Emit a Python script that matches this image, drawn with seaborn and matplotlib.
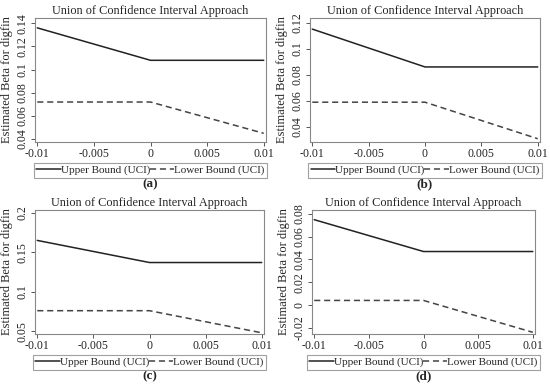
import matplotlib
matplotlib.use("Agg")
import matplotlib.pyplot as plt
import pandas as pd
import seaborn as sns

# ------------------------------------------------------
# Datos
# ------------------------------------------------------
x_vals = [-0.01, 0.0, 0.01]

upper_a = [0.136, 0.108, 0.108]
lower_a = [0.072, 0.072, 0.045]
upper_b = [0.115, 0.086, 0.086]
lower_b = [0.059, 0.059, 0.031]
upper_c = [0.165, 0.137, 0.137]
lower_c = [0.076, 0.076, 0.048]
upper_d = [0.075, 0.047, 0.047]
lower_d = [0.004, 0.004, -0.024]

x_ticks = [-0.01, -0.005, 0, 0.005, 0.01]
x_labels = ["-0.01", "-0.005", "0", "0.005", "0.01"]

yticks_a = [0.04, 0.06, 0.08, 0.1, 0.12, 0.14]
ylabels_a = ["0.04", "0.06", "0.08", "0.1", "0.12", "0.14"]
yticks_b = [0.04, 0.06, 0.08, 0.1, 0.12]
ylabels_b = ["0.04", "0.06", "0.08", "0.1", "0.12"]
yticks_c = [0.05, 0.1, 0.15, 0.2]
ylabels_c = ["0.05", "0.1", "0.15", "0.2"]
yticks_d = [-0.02, 0, 0.02, 0.04, 0.06, 0.08]
ylabels_d = ["-0.02", "0", "0.02", "0.04", "0.06", "0.08"]

series_names = ["Upper Bound (UCI)", "Lower Bound (UCI)"]
captions = ["a", "b", "c", "d"]


def make_df(upper, lower):
    return pd.DataFrame(
        {
            "x": x_vals * 2,
            "beta": upper + lower,
            "serie": [series_names[0]] * 3 + [series_names[1]] * 3,
        }
    )


# ------------------------------------------------------
# Un panel
# ------------------------------------------------------
def draw_panel(fig, rect, upper, lower, yticks, ylabels, ylim, caption):
    ax = fig.add_axes(rect)
    df = make_df(upper, lower)
    sns.lineplot(
        data=df,
        x="x",
        y="beta",
        hue="serie",
        style="serie",
        palette=["#222222", "#444444"],
        dashes=[(None, None), (4, 2.5)],
        linewidth=1.1,
        ax=ax,
    )
    ax.set_xlim(-0.0102, 0.0102)
    ax.set_ylim(*ylim)
    ax.set_xticks(x_ticks)
    ax.set_xticklabels(x_labels)
    ax.set_yticks(yticks)
    ax.set_yticklabels(ylabels, rotation=90, va="center")
    ax.set_xlabel("")
    ax.set_ylabel("Estimated Beta for digfin", labelpad=3)
    ax.set_title("Union of Confidence Interval Approach", pad=3)
    ax.tick_params(length=3, width=0.7, color="#555555", pad=1.5)
    for sp in ax.spines.values():
        sp.set_color("#888888")
        sp.set_linewidth(0.8)

    ax.legend(
        loc="upper center",
        bbox_to_anchor=(0.5, -0.17),
        ncol=2,
        frameon=True,
        fancybox=False,
        edgecolor="#888888",
        handlelength=2.2,
        handletextpad=0.0,
        columnspacing=0.0,
        borderpad=0.2,
        borderaxespad=0,
        fontsize=8,
    )
    ax.legend_.get_frame().set_linewidth(0.8)

    ax.text(
        0.5,
        -0.34,
        f"({caption})",
        transform=ax.transAxes,
        ha="center",
        va="center",
        fontsize=9.5,
        fontweight="bold",
    )
    return ax


def main():
    sns.set_theme(style="ticks")
    plt.rcParams.update(
        {
            "font.family": ["Liberation Serif", "DejaVu Serif"],
            "font.size": 8.5,
            "axes.titlesize": 8.8,
            "axes.labelsize": 9,
            "xtick.labelsize": 8.6,
            "ytick.labelsize": 8.6,
            "axes.unicode_minus": False,
        }
    )

    fig = plt.figure(figsize=(5.5, 3.9), dpi=100)

    W, H = 550.0, 390.0

    def rect(left, top, right, bottom):
        return [left / W, 1 - bottom / H, (right - left) / W, (bottom - top) / H]

    draw_panel(fig, rect(35, 18, 266, 142), upper_a, lower_a,
               yticks_a, ylabels_a, (0.0375, 0.1445), captions[0])
    draw_panel(fig, rect(310, 18, 540, 142), upper_b, lower_b,
               yticks_b, ylabels_b, (0.0285, 0.1235), captions[1])
    draw_panel(fig, rect(35, 210, 264, 334), upper_c, lower_c,
               yticks_c, ylabels_c, (0.0465, 0.2035), captions[2])
    draw_panel(fig, rect(312, 210, 535, 334), upper_d, lower_d,
               yticks_d, ylabels_d, (-0.0255, 0.0835), captions[3])

    fig.savefig("out.png", dpi=100)
    plt.close(fig)


if __name__ == "__main__":
    main()
